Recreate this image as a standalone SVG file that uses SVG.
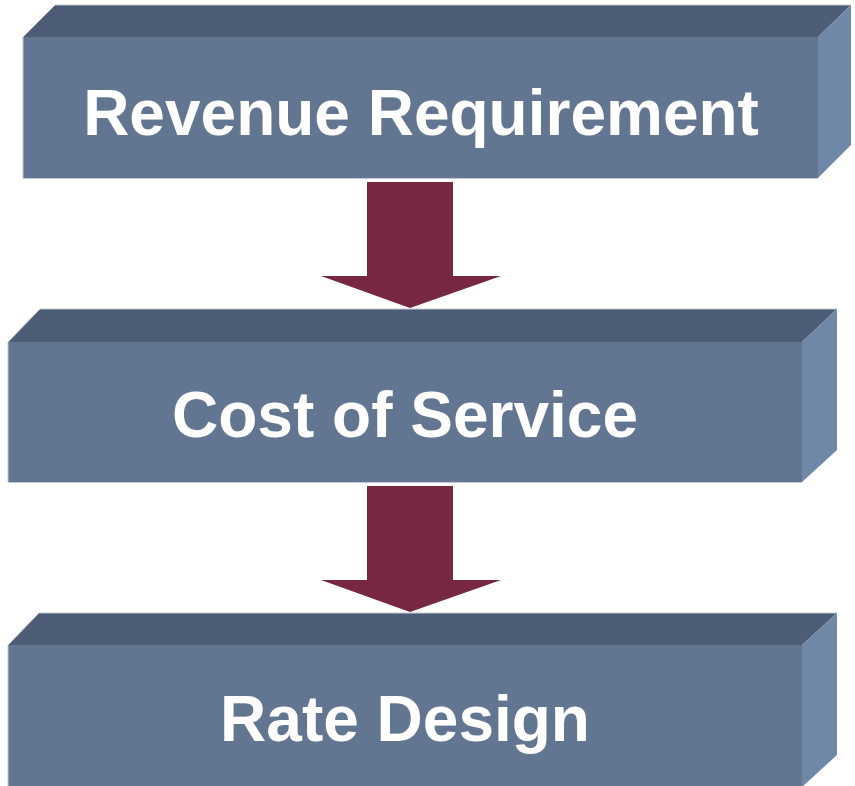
<svg xmlns="http://www.w3.org/2000/svg" width="855" height="786" viewBox="0 0 855 786">
<style>
.front{fill:#627591}
.top{fill:#4d5d75}
.side{fill:#7088a8}
.edge{fill:none;stroke:#c4c8d0;stroke-width:1}
.arrow{fill:#772840}
.lbl{font-family:"Liberation Sans",Arial,sans-serif;font-weight:bold;font-size:64px;fill:#ffffff;text-anchor:middle}
</style>
<rect width="855" height="786" fill="#ffffff"/>
<g id="node-revenue">
<polygon class="top" points="23,37 55,5 851,5 818,37"/>
<polygon class="side" points="818,37 851,5 851,145 818,178"/>
<rect class="front" x="23" y="37" width="795" height="141"/>
<polyline class="edge" points="23,178 23,37 55,5 851,5"/>
<line class="edge" x1="23" y1="178.5" x2="818" y2="178.5"/>
<text class="lbl" x="421" y="135">Revenue Requirement</text>
</g>
<g id="node-cost">
<polygon class="top" points="8,342 40,309 837,309 802,342"/>
<polygon class="side" points="802,342 837,309 837,450 802,482"/>
<rect class="front" x="8" y="342" width="794" height="140"/>
<polyline class="edge" points="8,482 8,342 40,309 837,309"/>
<line class="edge" x1="8" y1="482.5" x2="802" y2="482.5"/>
<text class="lbl" x="405" y="437">Cost of Service</text>
</g>
<g id="node-rate">
<polygon class="top" points="8,645 39,613 837,613 802,645"/>
<polygon class="side" points="802,645 837,613 837,755 802,787"/>
<rect class="front" x="8" y="645" width="794" height="142"/>
<polyline class="edge" points="8,787 8,645 39,613 837,613"/>
<text class="lbl" x="405" y="741">Rate Design</text>
</g>
<g id="connectors">
<polygon class="arrow" points="367,182 453,182 453,276 501,276 410,308 321,276 367,276"/>
<polygon class="arrow" points="367,486 453,486 453,580 501,580 410,612 321,580 367,580"/>
</g>
</svg>
